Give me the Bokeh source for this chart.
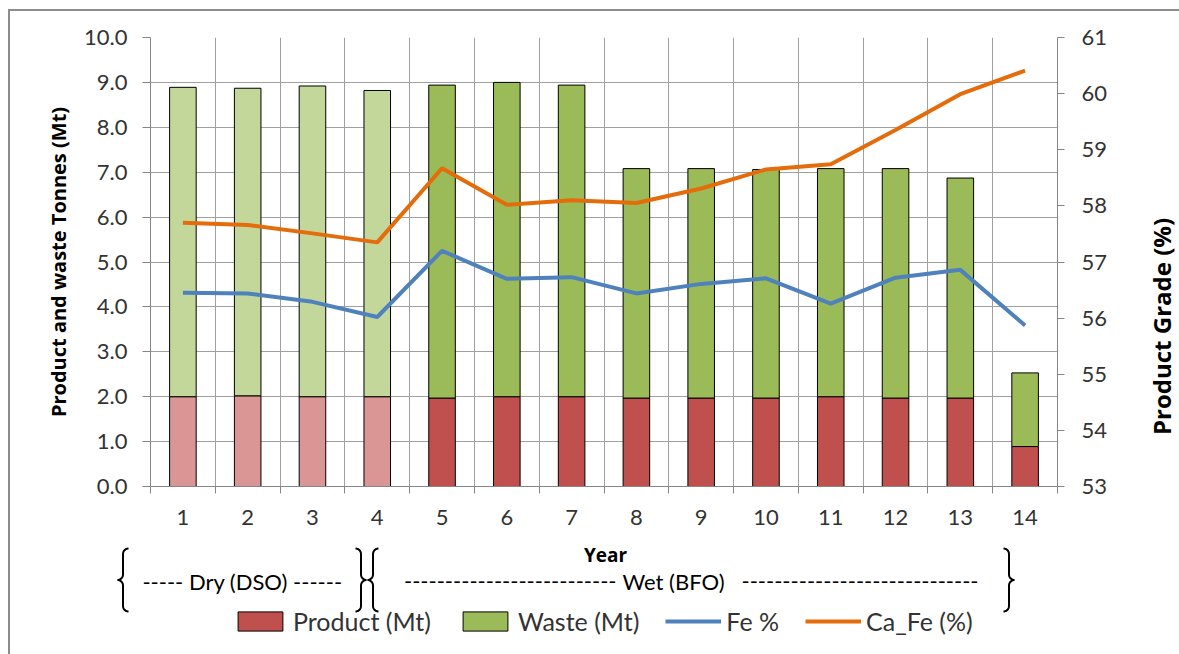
import math
from bokeh.plotting import figure
from bokeh.layouts import column, row
from bokeh.models import (ColumnDataSource, LinearAxis, Range1d, FixedTicker, Legend, LegendItem,
                          Label, PolyAnnotation, NumeralTickFormatter)
from bokeh.embed import file_html
from bokeh.resources import INLINE

# ---------------- data ----------------
years = [1, 2, 3, 4, 5, 6, 7, 8, 9, 10, 11, 12, 13, 14]
year_labels = [str(y) for y in years]
phase = ["DSO"] * 4 + ["BFO"] * 10
product_mt = [2.00, 2.02, 2.00, 2.00, 1.97, 2.00, 2.00, 1.97, 1.97, 1.97, 2.00, 1.97, 1.97, 0.89]
waste_mt = [6.89, 6.85, 6.92, 6.82, 6.97, 7.00, 6.94, 5.11, 5.11, 5.09, 5.08, 5.11, 4.90, 1.64]
fe_pct = [56.45, 56.44, 56.29, 56.02, 57.20, 56.70, 56.73, 56.44, 56.61, 56.71, 56.26, 56.72, 56.86, 55.87]
ca_fe_pct = [57.70, 57.66, 57.51, 57.35, 58.67, 58.02, 58.10, 58.05, 58.31, 58.65, 58.74, 59.35, 59.99, 60.41]
left_ticks = [0, 1, 2, 3, 4, 5, 6, 7, 8, 9, 10]
right_ticks = [53, 54, 55, 56, 57, 58, 59, 60, 61]

# ---------------- styles ----------------
C_PROD = {"DSO": "#D99694", "BFO": "#C0504D"}
C_WASTE = {"DSO": "#C4D79B", "BFO": "#9BBB59"}
C_FE = "#4F81BD"
C_CAFE = "#E46C0A"
GRID = "#A0A0A0"
AXIS = "#868686"
TXT = "#333333"
FONT = "Lato"
BFONT = "Open Sans"

W, H = 1179, 654
OX, OY = 10, 11            # content origin (inside the outer chart border)
MAIN_R, MAIN_B = 1140, 540  # main figure right / bottom edge (canvas px)
FL, FR, FT, FB = 150, 1057, 37, 486  # frame edges in canvas px

total = [p + w for p, w in zip(product_mt, waste_mt)]
src = ColumnDataSource(dict(
    x=years, product=product_mt, total=total,
    pcol=[C_PROD[ph] for ph in phase], wcol=[C_WASTE[ph] for ph in phase],
    fe=fe_pct, cafe=ca_fe_pct))

p = figure(width=MAIN_R - OX, height=MAIN_B - OY,
           x_range=Range1d(0.5, len(years) + 0.5), y_range=Range1d(0, 10),
           output_backend="svg", toolbar_location=None,
           min_border_left=FL - OX, min_border_right=MAIN_R - FR,
           min_border_top=FT - OY, min_border_bottom=MAIN_B - FB)
p.outline_line_color = None
p.extra_y_ranges = {"grade": Range1d(53, 61)}

BAR_KW = dict(x="x", width=0.41, source=src, line_color="black", line_width=1)
r_prod = p.vbar(bottom=0, top="product", fill_color="pcol", **BAR_KW)
r_waste = p.vbar(bottom="product", top="total", fill_color="wcol", **BAR_KW)
r_fe = p.line(x="x", y="fe", source=src, y_range_name="grade", line_color=C_FE, line_width=4)
r_cafe = p.line(x="x", y="cafe", source=src, y_range_name="grade", line_color=C_CAFE, line_width=4)

# x axis
bounds = [y - 0.5 for y in years] + [years[-1] + 0.5]
xa = p.xaxis[0]
xa.ticker = FixedTicker(ticks=years, minor_ticks=bounds)
xa.major_label_overrides = {y: l for y, l in zip(years, year_labels)}
xa.major_tick_line_color = None
xa.major_tick_out = 0
xa.minor_tick_in = 0
xa.minor_tick_out = 7
xa.minor_tick_line_color = AXIS
xa.axis_line_color = AXIS
xa.major_label_text_font = FONT
xa.major_label_text_font_size = "22px"
xa.major_label_text_color = TXT
xa.major_label_standoff = 16

# left axis
ya = p.yaxis[0]
ya.ticker = FixedTicker(ticks=left_ticks)
ya.formatter = NumeralTickFormatter(format="0.0")
ya.axis_line_color = AXIS
ya.major_tick_line_color = AXIS
ya.major_tick_in = 0
ya.major_tick_out = 8
ya.minor_tick_line_color = None
ya.major_label_text_font = FONT
ya.major_label_text_font_size = "22px"
ya.major_label_text_color = TXT
ya.major_label_standoff = 15
ya.axis_label = "Product and waste Tonnes (Mt)"
ya.axis_label_text_font = BFONT
ya.axis_label_text_font_style = "bold"
ya.axis_label_text_font_size = "20px"
ya.axis_label_text_color = "black"
ya.axis_label_standoff = 9

# right axis
ra = LinearAxis(y_range_name="grade", ticker=FixedTicker(ticks=right_ticks))
ra.axis_line_color = AXIS
ra.major_tick_line_color = AXIS
ra.major_tick_in = 0
ra.major_tick_out = 7
ra.minor_tick_line_color = None
ra.major_label_text_font = FONT
ra.major_label_text_font_size = "22px"
ra.major_label_text_color = TXT
ra.major_label_standoff = 17
p.add_layout(ra, "right")

# grids
p.xgrid.ticker = FixedTicker(ticks=bounds)
p.ygrid.ticker = FixedTicker(ticks=left_ticks)
for g in (p.xgrid, p.ygrid):
    g.grid_line_color = GRID
    g.grid_line_width = 1


def strip(width, height):
    # ranges far away from the data: the legend proxies below draw nothing visible
    f = figure(width=width, height=height, x_range=Range1d(-1000, -999), y_range=Range1d(-1000, -999),
               output_backend="svg", toolbar_location=None, min_border=0,
               min_border_left=0, min_border_right=0, min_border_top=0, min_border_bottom=0)
    f.axis.visible = False
    f.grid.visible = False
    f.outline_line_color = None
    return f


# ---------------- right strip: right axis title ----------------
# (inside a row, this strip's frame is aligned with the main frame: y measured from FB)
pr = strip(W - MAIN_R, MAIN_B - OY)
pr.add_layout(Label(x=1161 - MAIN_R, y=FB - 326, x_units="screen", y_units="screen",
                    text="Product Grade (%)", angle=math.pi / 2, text_align="center",
                    text_baseline="middle", text_font=BFONT, text_font_style="bold",
                    text_font_size="24px", text_color="black"))

# ---------------- bottom strip: year, phases, legend ----------------
pb = strip(W - OX, H - MAIN_B)


def bx(X):
    return X - OX


def by(Y):
    return H - Y


def add_text(t, X, Y, align="center", size="22px", bold=False, font=FONT):
    pb.add_layout(Label(x=bx(X), y=by(Y), x_units="screen", y_units="screen", text=t,
                        text_align=align, text_baseline="middle", text_font=font,
                        text_font_style="bold" if bold else "normal",
                        text_font_size=size, text_color="black"))


add_text("Year", 605, 554, size="19px", bold=True, font=BFONT)
add_text("----- Dry (DSO) ------", 242, 581)
add_text("-" * 26, 616, 581, align="right")
add_text("Wet (BFO)", 673, 581)
add_text("-" * 29, 741, 581, align="left")


def brace_path(x_arm, x_tip, y_top, y_bot, n=8):
    r = (x_arm - x_tip) / 2.0
    ar = abs(r)
    ym = (y_top + y_bot) / 2.0
    pts = []
    for i in range(n + 1):
        t = i / n * math.pi / 2
        pts.append((x_arm - r * math.sin(t), y_top + ar - ar * math.cos(t)))
    for i in range(n + 1):
        t = i / n * math.pi / 2
        pts.append((x_tip + r * math.cos(t), ym - ar + ar * math.sin(t)))
    lower = [(x, 2 * ym - y) for (x, y) in reversed(pts)]
    return pts + lower[1:]


def add_brace(x_arm, x_tip, y_top, y_bot):
    path = brace_path(x_arm, x_tip, y_top, y_bot)
    full = path + path[::-1][1:-1]
    pb.add_layout(PolyAnnotation(xs=[bx(x) for x, _ in full], ys=[by(y) for _, y in full],
                                 xs_units="screen", ys_units="screen",
                                 fill_alpha=0, line_color="black", line_alpha=1, line_width=2))


add_brace(128, 117, 548, 611)
add_brace(355, 366, 548, 611)
add_brace(378, 367, 548, 611)
add_brace(1003, 1014, 548, 611)

# legend proxies (same data, drawn outside this strip's view)
l_prod = pb.vbar(bottom=0, top="product", fill_color="pcol", **BAR_KW)
l_waste = pb.vbar(bottom="product", top="total", fill_color="wcol", **BAR_KW)
l_fe = pb.line(x="x", y="fe", source=src, line_color=C_FE, line_width=4)
l_cafe = pb.line(x="x", y="cafe", source=src, line_color=C_CAFE, line_width=4)

legend = Legend(items=[
    LegendItem(label="Product (Mt)", renderers=[l_prod], index=4),
    LegendItem(label="Waste (Mt)", renderers=[l_waste], index=4),
    LegendItem(label="Fe %", renderers=[l_fe]),
    LegendItem(label="Ca_Fe (%)", renderers=[l_cafe]),
], orientation="horizontal", location=(bx(232), by(636)),
    glyph_width=56, glyph_height=24, label_standoff=5, spacing=26,
    padding=0, margin=0, border_line_alpha=0, background_fill_alpha=0,
    label_text_font=FONT, label_text_font_size="25px", label_text_color=TXT)
pb.add_layout(legend)

layout = column(row(p, pr), pb,
                styles={"margin-left": "8px", "margin-top": "9px",
                        "border-left": "2px solid #8C8C8C", "border-top": "2px solid #8C8C8C"})

open("out.html", "w").write(file_html(layout, INLINE))
